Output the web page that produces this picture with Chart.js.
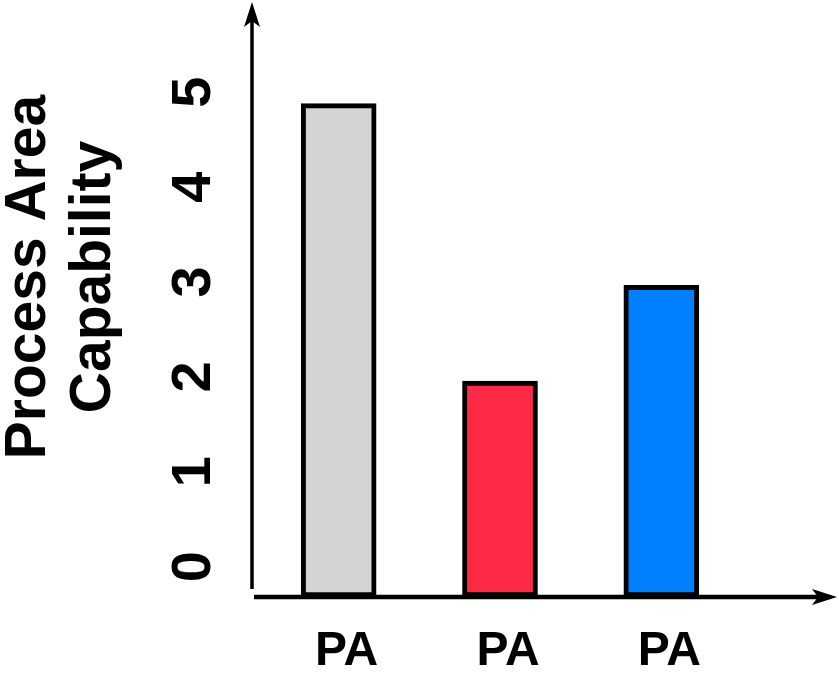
<!DOCTYPE html>
<html>
<head>
<meta charset="utf-8">
<script src="https://cdn.jsdelivr.net/npm/chart.js@4.4.1/dist/chart.umd.min.js"></script>
<style>
  html, body { margin: 0; padding: 0; background: #fff; }
  canvas { display: block; }
</style>
</head>
<body>
<canvas id="chart" width="839" height="676"></canvas>
<script>
const categories = ["PA", "PA", "PA"];
const capability = [4.75, 2.08, 3.0];
const barColors = ["#d4d4d4", "#ff2a45", "#0080ff"];
const yTicks = [0, 1, 2, 3, 4, 5];
const yTitle = ["Process Area", "Capability"];

const FONT = "'Liberation Sans', Arial, sans-serif";

// arrow-headed axis lines drawn by hand, like the original diagram
const arrowAxes = {
  id: "arrowAxes",
  afterDatasetsDraw(chart) {
    const { ctx, chartArea } = chart;
    const ax = chartArea.left - 6;
    const ay = chartArea.bottom;
    ctx.save();
    ctx.strokeStyle = "#000";
    ctx.fillStyle = "#000";

    // y axis
    ctx.lineWidth = 3.5;
    ctx.beginPath();
    ctx.moveTo(ax, ay - 8);
    ctx.lineTo(ax, chartArea.top + 15);
    ctx.stroke();
    const ty = chartArea.top - 3;
    ctx.beginPath();
    ctx.moveTo(ax, ty);
    ctx.lineTo(ax + 8, ty + 25);
    ctx.lineTo(ax, ty + 19);
    ctx.lineTo(ax - 8, ty + 25);
    ctx.closePath();
    ctx.fill();

    // x axis
    const tx = chart.width - 2;
    ctx.lineWidth = 4.5;
    ctx.beginPath();
    ctx.moveTo(ax + 2, ay);
    ctx.lineTo(tx - 15, ay);
    ctx.stroke();
    ctx.beginPath();
    ctx.moveTo(tx, ay);
    ctx.lineTo(tx - 25, ay - 8);
    ctx.lineTo(tx - 19, ay);
    ctx.lineTo(tx - 25, ay + 8);
    ctx.closePath();
    ctx.fill();

    // two-line rotated axis title, sitting a bit above the axis middle
    ctx.font = "bold 57px " + FONT;
    ctx.textAlign = "center";
    ctx.textBaseline = "middle";
    yTitle.forEach((line, i) => {
      ctx.save();
      ctx.translate(chartArea.left - 229 + i * 65, chartArea.top + 272);
      ctx.rotate(-Math.PI / 2);
      ctx.fillText(line, 0, 0);
      ctx.restore();
    });
    ctx.restore();
  }
};

new Chart(document.getElementById("chart"), {
  type: "bar",
  data: {
    labels: categories,
    datasets: [{
      data: capability,
      yAxisID: "y",
      backgroundColor: barColors,
      borderColor: "#000",
      borderWidth: 5,
      borderSkipped: false,
      barThickness: 75
    }]
  },
  options: {
    responsive: false,
    animation: false,
    layout: { padding: { top: 5, right: 97, bottom: 0, left: 0 } },
    plugins: {
      legend: { display: false },
      tooltip: { enabled: false }
    },
    scales: {
      x: {
        grid: { display: false, drawTicks: false },
        border: { display: false },
        ticks: {
          color: "#000",
          padding: 26,
          labelOffset: 8,
          maxRotation: 0,
          font: { family: FONT, size: 48, weight: "bold" }
        },
        afterFit(scale) {
          scale.height = 79;
          scale.paddingLeft = 0;
          scale.paddingRight = 0;
        }
      },
      // value scale for the bars
      y: {
        display: false,
        min: 0,
        max: 5.7
      },
      // the hand-placed tick numbers of the original sit slightly off the bar scale
      yLabels: {
        type: "linear",
        position: "left",
        min: -0.32,
        max: 5.92,
        grid: { display: false, drawTicks: false },
        border: { display: false },
        afterBuildTicks(scale) { scale.ticks = yTicks.map((v) => ({ value: v })); },
        ticks: {
          color: "#000",
          padding: 48,
          minRotation: 90,
          maxRotation: 90,
          crossAlign: "center",
          font: { family: FONT, size: 56, weight: "bold" }
        },
        afterFit(scale) {
          scale.width = 258;
          scale.paddingTop = 0;
          scale.paddingBottom = 0;
        }
      }
    }
  },
  plugins: [arrowAxes]
});
</script>
</body>
</html>
